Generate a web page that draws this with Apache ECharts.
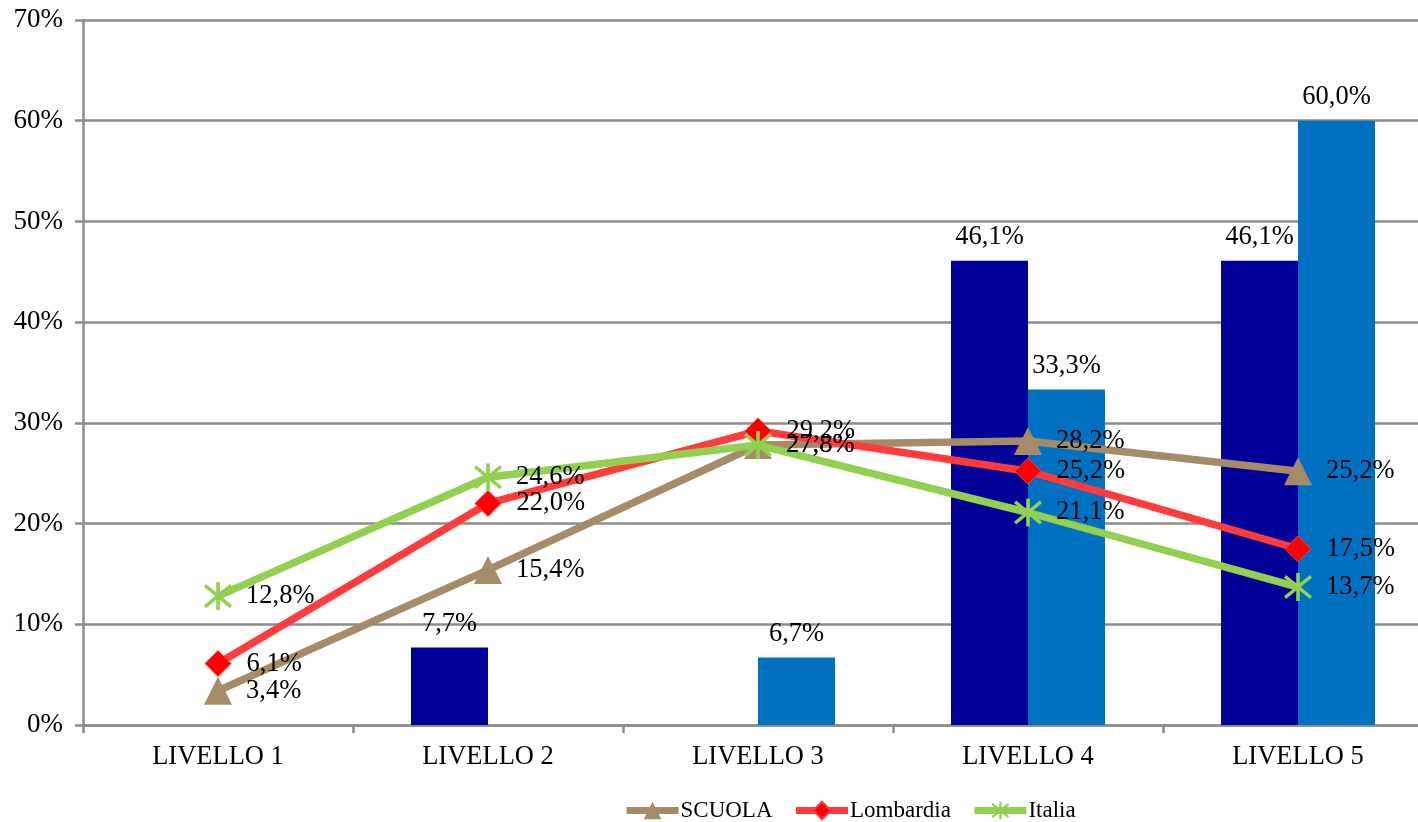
<!DOCTYPE html>
<html>
<head>
<meta charset="utf-8">
<script src="https://cdn.jsdelivr.net/npm/echarts@6/dist/echarts.min.js"></script>
<style>html,body{margin:0;padding:0;background:#fff}#c{width:1418px;height:822px}</style>
</head>
<body>
<div id="c"></div>
<script>
var categories = ['LIVELLO 1', 'LIVELLO 2', 'LIVELLO 3', 'LIVELLO 4', 'LIVELLO 5'];
var barDark = [null, 7.7, null, 46.1, 46.1];
var barLight = [null, null, 6.7, 33.3, 60.0];
var scuola = [3.4, 15.4, 27.8, 28.2, 25.2];
var lombardia = [6.1, 22.0, 29.2, 25.2, 17.5];
var italia = [12.8, 24.6, 27.8, 21.1, 13.7];
var yTicks = [0, 10, 20, 30, 40, 50, 60, 70];

var FONT = 'Liberation Serif';
function fmt(v) { return v.toFixed(1).replace('.', ',') + '%'; }
var labelStyle = { fontFamily: FONT, fontSize: 26.5, color: '#000' };
var star = 'path://M4.4 0 L5.6 0 L5.6 10 L4.4 10 Z M0.3 1.7 L1.0 0.7 L9.7 8.3 L9.0 9.3 Z M9.0 0.7 L9.7 1.7 L1.0 9.3 L0.3 8.3 Z';

var chart = echarts.init(document.getElementById('c'));
chart.setOption({
  animation: false,
  backgroundColor: '#fff',
  grid: { left: 83, right: -15, top: 20, bottom: 97, containLabel: false, outerBoundsMode: 'none' },
  legend: {
    data: [
      { name: 'SCUOLA', lineStyle: { width: 7 } },
      { name: 'Lombardia', lineStyle: { width: 7 } },
      { name: 'Italia', lineStyle: { width: 7 } }
    ],
    top: 794, left: 618,
    itemWidth: 52, itemHeight: 22, itemGap: 20,
    lineStyle: { width: 7 },
    textStyle: { fontFamily: FONT, fontSize: 23, color: '#000', padding: [0, 0, 0, -3] }
  },
  xAxis: {
    type: 'category', data: categories,
    axisLine: { lineStyle: { color: '#8c8c8c', width: 2.5 } },
    axisTick: { show: true, length: 8, inside: false, lineStyle: { color: '#8c8c8c', width: 2.5 } },
    axisLabel: { fontFamily: FONT, fontSize: 26.5, color: '#000', margin: 19 }
  },
  yAxis: {
    type: 'value', min: yTicks[0], max: yTicks[yTicks.length - 1], interval: 10,
    axisLine: { show: true, lineStyle: { color: '#8c8c8c', width: 2.5 } },
    axisTick: { show: true, length: 8, lineStyle: { color: '#8c8c8c', width: 2.5 } },
    splitLine: { lineStyle: { color: '#8c8c8c', width: 2.5 } },
    axisLabel: { fontFamily: FONT, fontSize: 27, color: '#000', margin: 20, formatter: function (v) { return v + '%'; } }
  },
  series: [
    { name: 'bar1', type: 'bar', data: barDark, barWidth: 77, barGap: '0%',
      itemStyle: { color: '#000099' }, z: 1,
      label: Object.assign({ show: true, position: 'top', distance: 10, formatter: function (p) { return fmt(p.value); } }, labelStyle) },
    { name: 'bar2', type: 'bar', data: barLight, barWidth: 77, barGap: '0%',
      itemStyle: { color: '#0070C0' }, z: 1,
      label: Object.assign({ show: true, position: 'top', distance: 10, formatter: function (p) { return fmt(p.value); } }, labelStyle) },
    { name: 'SCUOLA', type: 'line', data: scuola, symbol: 'triangle', symbolSize: 28,
      lineStyle: { color: '#A68B68', width: 7.5 }, itemStyle: { color: '#A68B68' }, z: 3,
      label: Object.assign({ show: true, position: 'right', distance: 14, formatter: function (p) { return fmt(p.value); } }, labelStyle) },
    { name: 'Lombardia', type: 'line', data: lombardia, symbol: 'diamond', symbolSize: 26,
      lineStyle: { color: '#FF3B3B', width: 7.5 }, itemStyle: { color: '#FF0000', borderColor: '#FF3B3B', borderWidth: 1 }, z: 4,
      label: Object.assign({ show: true, position: 'right', distance: 15, formatter: function (p) { return fmt(p.value); } }, labelStyle) },
    { name: 'Italia', type: 'line', data: italia, symbol: star, symbolSize: 28,
      lineStyle: { color: '#92D050', width: 7.5 }, itemStyle: { color: '#92D050' }, z: 5,
      label: Object.assign({ show: true, position: 'right', distance: 14, formatter: function (p) { return fmt(p.value); } }, labelStyle) }
  ]
});
</script>
</body>
</html>
